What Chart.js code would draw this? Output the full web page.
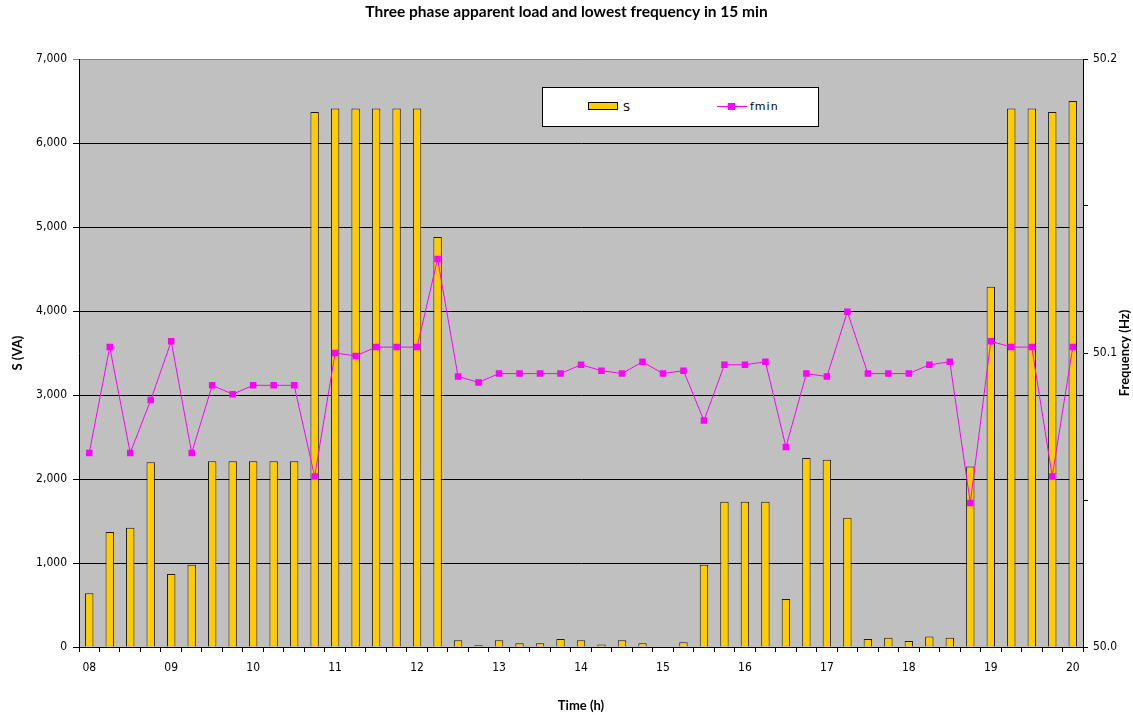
<!DOCTYPE html>
<html>
<head>
<meta charset="utf-8">
<title>Three phase apparent load and lowest frequency</title>
<script src="https://cdn.jsdelivr.net/npm/chart.js@4/dist/chart.umd.min.js"></script>
<style>
    body { margin: 0; background: #fff; }
    #wrap { position: relative; width: 1133px; height: 715px; }
    #legendBox {
        position: absolute; left: 542px; top: 87px; width: 275px; height: 38px;
        background: #fff; border: 1px solid #000;
        font-family: "DejaVu Sans", sans-serif; font-size: 11px; color: #000;
    }
    #legendBox .sw { position: absolute; left: 45px; top: 14px; width: 28px; height: 6px; background: #FFCC00; border: 1px solid #000; }
    #legendBox .sl { position: absolute; left: 80px; top: 13px; }
    #legendBox .ln { position: absolute; left: 174px; top: 18px; width: 30px; height: 1px; background: #FF00FF; }
    #legendBox .mk { position: absolute; left: 185px; top: 15px; width: 7px; height: 7px; background: #FF00FF; }
    #legendBox .fl { position: absolute; left: 207px; top: 12px; letter-spacing: 1px; }
</style>
</head>
<body>
<div id="wrap">
    <canvas id="chart" width="1133" height="715"></canvas>
    <div id="legendBox">
        <span class="sw"></span><span class="sl">S</span>
        <span class="ln"></span><span class="mk"></span><span class="fl">fmin</span>
    </div>
</div>
<script>
// 15 minute slots, 08:00 - 20:00
const times = [
    '08:00', '08:15', '08:30', '08:45', '09:00', '09:15', '09:30', '09:45',
    '10:00', '10:15', '10:30', '10:45', '11:00', '11:15', '11:30', '11:45',
    '12:00', '12:15', '12:30', '12:45', '13:00', '13:15', '13:30', '13:45',
    '14:00', '14:15', '14:30', '14:45', '15:00', '15:15', '15:30', '15:45',
    '16:00', '16:15', '16:30', '16:45', '17:00', '17:15', '17:30', '17:45',
    '18:00', '18:15', '18:30', '18:45', '19:00', '19:15', '19:30', '19:45',
    '20:00'
];

// apparent load S (VA)
const sLoad = [
    640, 1370, 1420, 2200, 870, 980, 2210, 2210,
    2210, 2210, 2210, 6370, 6410, 6410, 6410, 6410,
    6410, 4880, 80, 20, 80, 45, 45, 95,
    80, 30, 80, 45, 0, 56, 980, 1730,
    1730, 1730, 570, 2250, 2230, 1540, 95, 110,
    70, 125, 110, 2150, 4290, 6410, 6410, 6370,
    6500
];

// lowest frequency (Hz)
const fMin = [
    50.066, 50.102, 50.066, 50.084, 50.104, 50.066, 50.089, 50.086,
    50.089, 50.089, 50.089, 50.058, 50.100, 50.099, 50.102, 50.102,
    50.102, 50.132, 50.092, 50.090, 50.093, 50.093, 50.093, 50.093,
    50.096, 50.094, 50.093, 50.097, 50.093, 50.094, 50.077, 50.096,
    50.096, 50.097, 50.068, 50.093, 50.092, 50.114, 50.093, 50.093,
    50.093, 50.096, 50.097, 50.049, 50.104, 50.102, 50.102, 50.058,
    50.102
];

const sTicks = { min: 0, max: 7000, step: 1000 };
const fTicks = { min: 50.0, max: 50.2, step: 0.05 };

const tickFont = { family: '"DejaVu Sans Condensed", "DejaVu Sans", sans-serif', size: 12 };
const titleFont = { family: 'Lato, "Open Sans", sans-serif', size: 13, weight: 'bold' };

// grey plot area
const plotBackground = {
    id: 'plotBackground',
    beforeDraw(chart) {
        const { ctx, chartArea: a } = chart;
        ctx.save();
        ctx.fillStyle = '#C0C0C0';
        ctx.fillRect(a.left, a.top, a.right - a.left, a.bottom - a.top);
        ctx.restore();
    }
};

// right axis title reads bottom-to-top
const rightTitle = {
    id: 'rightTitle',
    afterDraw(chart) {
        const { ctx, chartArea: a } = chart;
        ctx.save();
        ctx.translate(chart.width - 8, (a.top + a.bottom) / 2);
        ctx.rotate(-Math.PI / 2);
        ctx.font = 'bold 13px Lato, "Open Sans", sans-serif';
        ctx.fillStyle = '#000';
        ctx.textAlign = 'center';
        ctx.textBaseline = 'middle';
        ctx.fillText('Frequency (Hz)', 0, 0);
        ctx.restore();
    }
};

new Chart(document.getElementById('chart'), {
    data: {
        labels: times,
        datasets: [
            {
                type: 'line',
                label: 'fmin',
                data: fMin,
                yAxisID: 'y1',
                borderColor: '#FF00FF',
                backgroundColor: '#FF00FF',
                borderWidth: 1,
                pointStyle: 'rect',
                pointRadius: 4.6,
                pointBorderWidth: 0,
                tension: 0,
                order: 0
            },
            {
                type: 'bar',
                label: 'S',
                data: sLoad,
                yAxisID: 'y',
                backgroundColor: '#FFCC00',
                borderColor: '#1a1a1a',
                borderWidth: 1,
                categoryPercentage: 1,
                barPercentage: 0.41,
                order: 1
            }
        ]
    },
    options: {
        responsive: false,
        animation: false,
        layout: { padding: 0 },
        plugins: {
            legend: { display: false },
            tooltip: { enabled: false },
            title: {
                display: true,
                text: 'Three phase apparent load and lowest frequency in 15 min',
                color: '#000',
                font: { family: 'Lato, "Open Sans", sans-serif', size: 15.5, weight: 'bold' },
                padding: { top: 3, bottom: 37.4 }
            }
        },
        scales: {
            x: {
                offset: true,
                grid: { offset: true, drawOnChartArea: false, drawTicks: true, tickLength: 5, color: '#000' },
                border: { color: '#000', width: 1 },
                ticks: {
                    autoSkip: false,
                    maxRotation: 0,
                    padding: 9,
                    color: '#000',
                    font: tickFont,
                    callback(value) {
                        const t = this.getLabelForValue(value);
                        return t.endsWith(':00') ? t.slice(0, 2) : '';
                    }
                },
                title: { display: true, text: 'Time (h)', color: '#000', font: titleFont, padding: { top: 0, bottom: 1 } },
                afterFit(scale) { scale.height = 68; }
            },
            y: {
                position: 'left',
                min: sTicks.min,
                max: sTicks.max,
                grid: {
                    color: ctx => (ctx.tick && ctx.tick.value === sTicks.max ? '#808080' : '#000'),
                    lineWidth: 1,
                    tickLength: 6
                },
                border: { color: '#000', width: 1 },
                ticks: {
                    stepSize: sTicks.step,
                    padding: 6,
                    color: '#000',
                    font: tickFont,
                    callback: v => v.toLocaleString('en-US')
                },
                title: { display: true, text: 'S (VA)', color: '#000', font: titleFont, padding: { top: 10, bottom: 0 } },
                afterFit(scale) { scale.width = 79; }
            },
            y1: {
                position: 'right',
                min: fTicks.min,
                max: fTicks.max,
                grid: { drawOnChartArea: false, tickLength: 5, color: '#000' },
                border: { color: '#000', width: 1 },
                ticks: {
                    stepSize: fTicks.step,
                    padding: 5,
                    color: '#000',
                    font: tickFont,
                    callback(v) {
                        const d = v * 10;
                        return Math.abs(d - Math.round(d)) < 1e-6 ? v.toFixed(1) : '';
                    }
                },
                afterFit(scale) { scale.width = 50; }
            }
        }
    },
    plugins: [plotBackground, rightTitle]
});
</script>
</body>
</html>
